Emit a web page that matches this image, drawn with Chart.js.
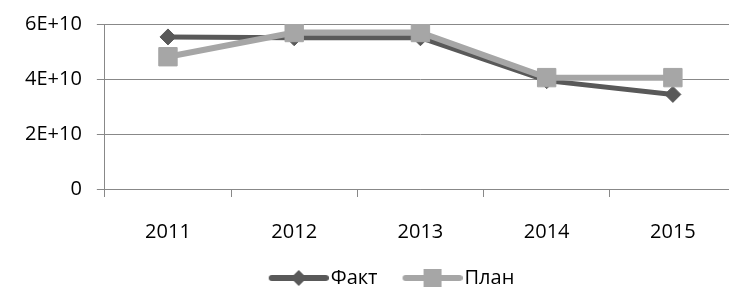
<!DOCTYPE html>
<html>
<head>
<meta charset="utf-8">
<script src="https://cdn.jsdelivr.net/npm/chart.js@4"></script>
<style>
  html, body { margin: 0; padding: 0; background: #fff; overflow: hidden; }
  #wrap { width: 750px; height: 288px; }
</style>
</head>
<body>
<div id="wrap"><canvas id="c"></canvas></div>
<script>
const years = ["2011", "2012", "2013", "2014", "2015"];
const fact = [5.53e10, 5.5e10, 5.5e10, 3.94e10, 3.44e10];
const plan = [4.81e10, 5.69e10, 5.69e10, 4.05e10, 4.05e10];
const yTicks = [0, 2e10, 4e10, 6e10];

const FONT = "'Open Sans', sans-serif";
const LEGEND_PAD = 2;

// legend swatch: a short line with the marker on it, drawn with a blank margin
// on the left so the items sit like the Excel legend
function legendIcon(color, style, size) {
  const left = 25 - LEGEND_PAD;
  const cv = document.createElement("canvas");
  cv.width = left + 60 - 8 + 16;
  cv.height = 22;
  const g = cv.getContext("2d");
  const x0 = 8 + left;
  const cx = x0 + 30;
  g.strokeStyle = color;
  g.fillStyle = color;
  g.lineWidth = 6;
  g.lineCap = "round";
  g.beginPath();
  g.moveTo(x0 + 3, 11);
  g.lineTo(x0 + 57, 11);
  g.stroke();
  g.beginPath();
  if (style === "diamond") {
    g.moveTo(cx, 11 - size);
    g.lineTo(cx + size, 11);
    g.lineTo(cx, 11 + size);
    g.lineTo(cx - size, 11);
  } else {
    g.rect(cx - size, 11 - size, size * 2, size * 2);
  }
  g.fill();
  return cv;
}

const icons = [legendIcon("#595959", "diamond", 8), legendIcon("#a6a6a6", "square", 9)];

// the legend keeps a fixed 10px gap under it; take it back
const tightLegend = {
  id: "tightLegend",
  beforeLayout(chart) {
    const lg = chart.legend;
    if (!lg || lg._tight) return;
    const fit = lg.fit.bind(lg);
    lg.fit = function () {
      fit();
      this.height -= 10;
    };
    lg._tight = true;
  }
};

new Chart(document.getElementById("c"), {
  type: "line",
  plugins: [tightLegend],
  data: {
    labels: years,
    datasets: [
      {
        label: "Факт",
        data: fact,
        borderColor: "#595959",
        backgroundColor: "#595959",
        borderWidth: 5,
        pointStyle: "rectRot",
        pointRadius: 8,
        pointHoverRadius: 8,
        pointBorderWidth: 1,
        tension: 0,
        order: 1
      },
      {
        label: "План",
        data: plan,
        borderColor: "#a6a6a6",
        backgroundColor: "#a6a6a6",
        borderWidth: 6,
        pointStyle: "rect",
        pointRadius: 13,
        pointHoverRadius: 13,
        pointBorderWidth: 1,
        tension: 0,
        order: 0
      }
    ]
  },
  options: {
    responsive: true,
    maintainAspectRatio: false,
    animation: false,
    layout: { padding: { top: 24, left: 10, right: 0, bottom: 0 } },
    plugins: {
      title: { display: false },
      tooltip: { enabled: false },
      legend: {
        display: true,
        position: "bottom",
        labels: {
          usePointStyle: true,
          pointStyleWidth: 25 - LEGEND_PAD + 60 - 8,
          color: "#000",
          font: { family: FONT, size: 20, lineHeight: 1 },
          padding: LEGEND_PAD,
          boxHeight: 20,
          generateLabels(chart) {
            return chart.data.datasets.map((ds, i) => ({
              text: ds.label,
              pointStyle: icons[i],
              fillStyle: ds.borderColor,
              strokeStyle: ds.borderColor,
              lineWidth: 0,
              hidden: false,
              datasetIndex: i,
              fontColor: "#000"
            }));
          }
        }
      }
    },
    scales: {
      x: {
        offset: true,
        afterFit(scale) {
          scale.height = 77;
        },
        grid: {
          display: true,
          drawOnChartArea: false,
          drawTicks: true,
          tickLength: 8,
          color: "#888",
          offset: true
        },
        border: { color: "#888", width: 1 },
        ticks: {
          color: "#000",
          font: { family: FONT, size: 20 },
          padding: 23
        }
      },
      y: {
        min: 0,
        max: 6e10,
        afterFit(scale) {
          scale.paddingTop = 0;
        },
        afterBuildTicks(axis) {
          axis.ticks = yTicks.map(v => ({ value: v }));
        },
        grid: {
          color: "#888",
          tickLength: 8
        },
        border: { color: "#888", width: 1 },
        ticks: {
          color: "#000",
          font: { family: FONT, size: 20 },
          padding: 15,
          callback(v) {
            if (v === 0) return "0";
            return (v / 1e10) + "E+10";
          }
        }
      }
    }
  }
});
</script>
</body>
</html>
